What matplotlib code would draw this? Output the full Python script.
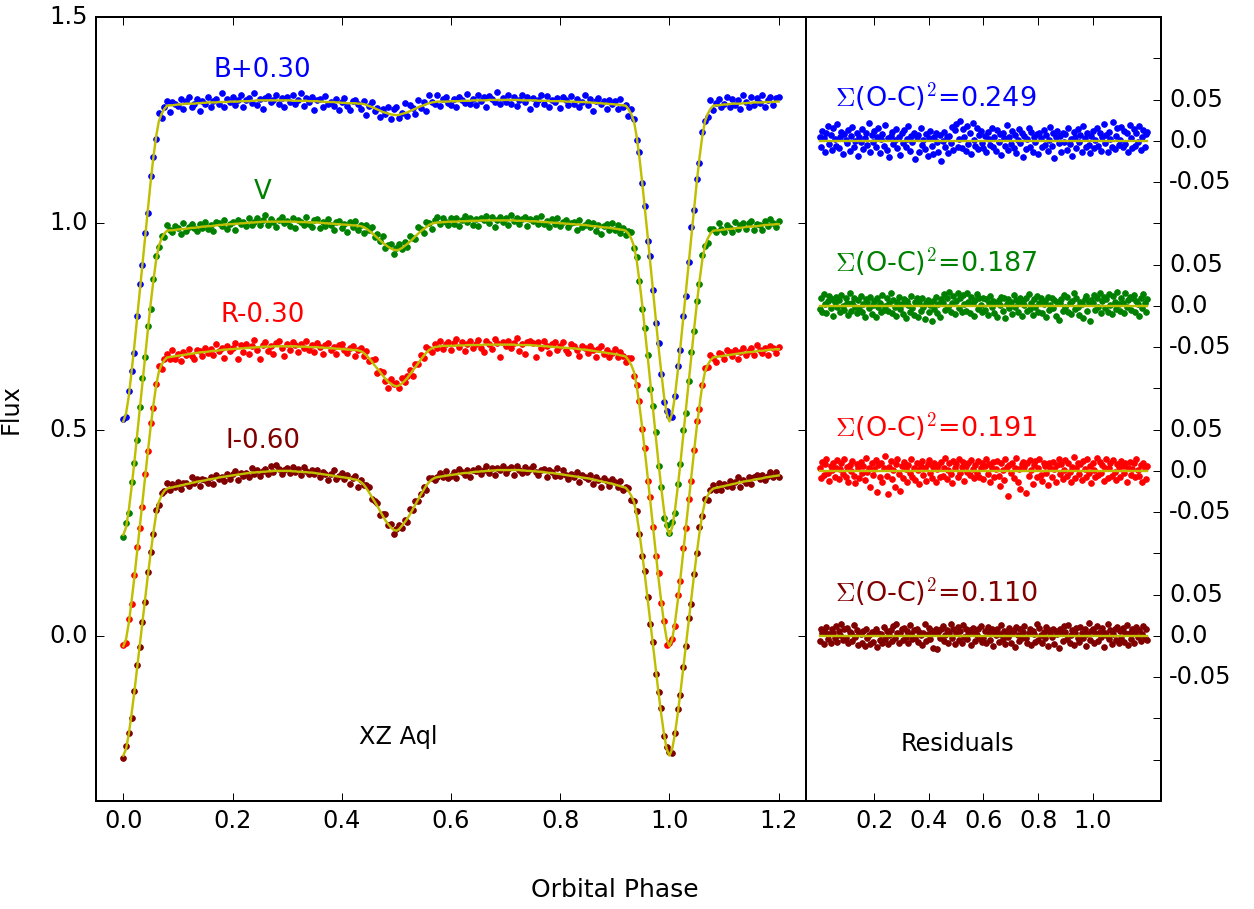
import numpy as np
import matplotlib.pyplot as plt

plt.style.use('classic')
plt.rcParams['mathtext.fontset'] = 'cm'

# orbital phase grid of the observations / model (0.000 .. 1.200, step 0.005)
phase = np.round(np.arange(241) * 0.005, 3)

# normalised model flux per band (synthetic light curve), one row = 0.05 in phase
B_model = [0.220, 0.239, 0.281, 0.339, 0.400, 0.467, 0.535, 0.602, 0.670, 0.736,
           0.800, 0.859, 0.910, 0.947, 0.965, 0.977, 0.985, 0.986, 0.986, 0.987,
           0.988, 0.988, 0.989, 0.990, 0.990, 0.990, 0.990, 0.991, 0.991, 0.992,
           0.992, 0.993, 0.993, 0.993, 0.993, 0.994, 0.994, 0.994, 0.994, 0.995,
           0.995, 0.995, 0.995, 0.996, 0.996, 0.996, 0.996, 0.997, 0.997, 0.998,
           0.998, 0.998, 0.998, 0.998, 0.998, 0.998, 0.998, 0.998, 0.998, 0.998,
           0.998, 0.998, 0.997, 0.997, 0.997, 0.997, 0.997, 0.997, 0.996, 0.996,
           0.996, 0.996, 0.995, 0.995, 0.994, 0.994, 0.994, 0.994, 0.993, 0.993,
           0.992, 0.992, 0.991, 0.991, 0.991, 0.991, 0.990, 0.990, 0.989, 0.987,
           0.984, 0.982, 0.979, 0.976, 0.973, 0.970, 0.968, 0.966, 0.964, 0.963,
           0.962, 0.963, 0.965, 0.967, 0.969, 0.972, 0.975, 0.978, 0.981, 0.984,
           0.986, 0.989, 0.991, 0.993, 0.994, 0.995, 0.995, 0.995, 0.995, 0.995,
           0.996, 0.996, 0.996, 0.996, 0.997, 0.997, 0.997, 0.997, 0.998, 0.998,
           0.998, 0.998, 0.998, 0.998, 0.999, 0.999, 0.999, 0.999, 0.999, 0.999,
           0.999, 0.999, 0.999, 0.999, 0.999, 0.999, 0.998, 0.998, 0.998, 0.998,
           0.998, 0.998, 0.997, 0.997, 0.997, 0.997, 0.996, 0.996, 0.996, 0.996,
           0.996, 0.996, 0.995, 0.995, 0.995, 0.995, 0.994, 0.994, 0.994, 0.994,
           0.993, 0.993, 0.992, 0.992, 0.991, 0.991, 0.990, 0.990, 0.989, 0.989,
           0.988, 0.988, 0.987, 0.986, 0.985, 0.977, 0.965, 0.947, 0.910, 0.859,
           0.800, 0.736, 0.670, 0.602, 0.535, 0.467, 0.400, 0.339, 0.281, 0.239,
           0.220, 0.239, 0.281, 0.339, 0.400, 0.467, 0.535, 0.602, 0.670, 0.736,
           0.800, 0.859, 0.910, 0.947, 0.965, 0.977, 0.985, 0.986, 0.986, 0.987,
           0.988, 0.988, 0.989, 0.990, 0.990, 0.990, 0.990, 0.991, 0.991, 0.992,
           0.992, 0.993, 0.993, 0.993, 0.993, 0.994, 0.994, 0.994, 0.994, 0.995,
           0.995]
V_model = [0.245, 0.263, 0.304, 0.359, 0.418, 0.483, 0.549, 0.613, 0.678, 0.742,
           0.804, 0.860, 0.910, 0.945, 0.963, 0.975, 0.982, 0.983, 0.983, 0.984,
           0.985, 0.986, 0.986, 0.987, 0.988, 0.989, 0.989, 0.990, 0.991, 0.992,
           0.992, 0.993, 0.993, 0.994, 0.995, 0.996, 0.996, 0.997, 0.997, 0.998,
           0.998, 0.999, 0.999, 1.000, 1.000, 1.001, 1.001, 1.002, 1.002, 1.003,
           1.003, 1.004, 1.004, 1.004, 1.004, 1.004, 1.004, 1.004, 1.004, 1.004,
           1.004, 1.004, 1.004, 1.004, 1.003, 1.003, 1.003, 1.003, 1.002, 1.002,
           1.002, 1.002, 1.001, 1.001, 1.000, 1.000, 0.999, 0.999, 0.998, 0.998,
           0.997, 0.997, 0.996, 0.996, 0.995, 0.995, 0.994, 0.993, 0.991, 0.987,
           0.982, 0.977, 0.971, 0.965, 0.959, 0.953, 0.948, 0.943, 0.939, 0.936,
           0.935, 0.936, 0.940, 0.945, 0.950, 0.956, 0.962, 0.969, 0.975, 0.981,
           0.986, 0.991, 0.996, 0.999, 1.001, 1.002, 1.002, 1.003, 1.003, 1.004,
           1.004, 1.004, 1.004, 1.005, 1.005, 1.005, 1.005, 1.006, 1.006, 1.006,
           1.006, 1.007, 1.007, 1.007, 1.007, 1.007, 1.007, 1.007, 1.007, 1.007,
           1.007, 1.007, 1.007, 1.007, 1.006, 1.006, 1.006, 1.006, 1.005, 1.005,
           1.005, 1.005, 1.004, 1.004, 1.003, 1.003, 1.002, 1.002, 1.001, 1.001,
           1.000, 1.000, 0.999, 0.999, 0.998, 0.998, 0.997, 0.997, 0.996, 0.996,
           0.995, 0.994, 0.993, 0.993, 0.992, 0.991, 0.990, 0.990, 0.989, 0.988,
           0.987, 0.986, 0.985, 0.984, 0.982, 0.975, 0.963, 0.945, 0.910, 0.860,
           0.804, 0.742, 0.678, 0.613, 0.549, 0.483, 0.418, 0.359, 0.304, 0.263,
           0.245, 0.263, 0.304, 0.359, 0.418, 0.483, 0.549, 0.613, 0.678, 0.742,
           0.804, 0.860, 0.910, 0.945, 0.963, 0.975, 0.982, 0.983, 0.983, 0.984,
           0.985, 0.986, 0.986, 0.987, 0.988, 0.989, 0.989, 0.990, 0.991, 0.992,
           0.992, 0.993, 0.993, 0.994, 0.995, 0.996, 0.996, 0.997, 0.997, 0.998,
           0.998]
R_model = [0.275, 0.292, 0.331, 0.383, 0.439, 0.501, 0.563, 0.625, 0.687, 0.747,
           0.806, 0.859, 0.906, 0.940, 0.957, 0.968, 0.975, 0.976, 0.977, 0.978,
           0.979, 0.980, 0.981, 0.982, 0.983, 0.984, 0.985, 0.986, 0.987, 0.988,
           0.988, 0.989, 0.990, 0.991, 0.991, 0.992, 0.993, 0.994, 0.994, 0.995,
           0.995, 0.996, 0.996, 0.997, 0.997, 0.998, 0.998, 0.999, 0.999, 1.000,
           1.000, 1.001, 1.001, 1.001, 1.001, 1.002, 1.002, 1.002, 1.002, 1.002,
           1.002, 1.002, 1.002, 1.002, 1.001, 1.001, 1.001, 1.001, 1.000, 1.000,
           1.000, 1.000, 0.999, 0.999, 0.998, 0.998, 0.997, 0.997, 0.996, 0.996,
           0.995, 0.995, 0.994, 0.994, 0.993, 0.993, 0.992, 0.990, 0.986, 0.980,
           0.973, 0.965, 0.956, 0.948, 0.940, 0.931, 0.923, 0.916, 0.911, 0.907,
           0.905, 0.907, 0.912, 0.918, 0.925, 0.934, 0.943, 0.952, 0.961, 0.970,
           0.979, 0.987, 0.993, 0.997, 1.000, 1.001, 1.002, 1.003, 1.003, 1.003,
           1.003, 1.003, 1.004, 1.004, 1.004, 1.004, 1.005, 1.005, 1.005, 1.005,
           1.005, 1.005, 1.006, 1.006, 1.006, 1.006, 1.006, 1.006, 1.006, 1.006,
           1.006, 1.006, 1.006, 1.006, 1.005, 1.005, 1.005, 1.005, 1.005, 1.005,
           1.004, 1.004, 1.003, 1.003, 1.002, 1.002, 1.001, 1.001, 1.000, 1.000,
           0.999, 0.999, 0.998, 0.998, 0.997, 0.997, 0.996, 0.995, 0.994, 0.994,
           0.993, 0.992, 0.991, 0.990, 0.989, 0.988, 0.987, 0.986, 0.985, 0.984,
           0.983, 0.982, 0.980, 0.979, 0.977, 0.968, 0.957, 0.940, 0.906, 0.859,
           0.806, 0.747, 0.687, 0.625, 0.563, 0.501, 0.439, 0.383, 0.331, 0.292,
           0.275, 0.292, 0.331, 0.383, 0.439, 0.501, 0.563, 0.625, 0.687, 0.747,
           0.806, 0.859, 0.906, 0.940, 0.957, 0.968, 0.975, 0.976, 0.977, 0.978,
           0.979, 0.980, 0.981, 0.982, 0.983, 0.984, 0.985, 0.986, 0.987, 0.988,
           0.988, 0.989, 0.990, 0.991, 0.991, 0.992, 0.993, 0.994, 0.994, 0.995,
           0.995]
I_model = [0.310, 0.326, 0.362, 0.410, 0.462, 0.519, 0.577, 0.633, 0.690, 0.747,
           0.800, 0.850, 0.894, 0.925, 0.940, 0.951, 0.957, 0.959, 0.960, 0.962,
           0.963, 0.965, 0.966, 0.968, 0.969, 0.971, 0.972, 0.974, 0.975, 0.976,
           0.977, 0.979, 0.980, 0.981, 0.982, 0.984, 0.985, 0.986, 0.987, 0.988,
           0.989, 0.990, 0.991, 0.992, 0.993, 0.994, 0.995, 0.996, 0.996, 0.997,
           0.997, 0.998, 0.998, 0.999, 0.999, 1.000, 1.000, 1.000, 1.000, 1.000,
           1.000, 1.000, 0.999, 0.999, 0.998, 0.998, 0.997, 0.997, 0.996, 0.996,
           0.995, 0.994, 0.993, 0.992, 0.991, 0.990, 0.989, 0.988, 0.987, 0.986,
           0.985, 0.984, 0.983, 0.982, 0.980, 0.979, 0.977, 0.973, 0.967, 0.958,
           0.948, 0.937, 0.926, 0.915, 0.903, 0.891, 0.880, 0.871, 0.863, 0.857,
           0.855, 0.859, 0.867, 0.875, 0.884, 0.895, 0.907, 0.919, 0.931, 0.943,
           0.954, 0.965, 0.973, 0.979, 0.983, 0.985, 0.986, 0.987, 0.988, 0.989,
           0.990, 0.991, 0.992, 0.993, 0.994, 0.995, 0.995, 0.996, 0.997, 0.998,
           0.998, 0.999, 0.999, 1.000, 1.000, 1.001, 1.001, 1.002, 1.002, 1.002,
           1.002, 1.002, 1.002, 1.002, 1.002, 1.002, 1.001, 1.001, 1.000, 1.000,
           0.999, 0.999, 0.998, 0.998, 0.997, 0.996, 0.995, 0.995, 0.994, 0.993,
           0.992, 0.991, 0.990, 0.989, 0.988, 0.987, 0.986, 0.985, 0.984, 0.983,
           0.982, 0.981, 0.979, 0.978, 0.976, 0.975, 0.973, 0.972, 0.970, 0.969,
           0.967, 0.965, 0.963, 0.961, 0.959, 0.951, 0.940, 0.925, 0.894, 0.850,
           0.800, 0.747, 0.690, 0.633, 0.577, 0.519, 0.462, 0.410, 0.362, 0.326,
           0.310, 0.326, 0.362, 0.410, 0.462, 0.519, 0.577, 0.633, 0.690, 0.747,
           0.800, 0.850, 0.894, 0.925, 0.940, 0.951, 0.957, 0.959, 0.960, 0.962,
           0.963, 0.965, 0.966, 0.968, 0.969, 0.971, 0.972, 0.974, 0.975, 0.976,
           0.977, 0.979, 0.980, 0.981, 0.982, 0.984, 0.985, 0.986, 0.987, 0.988,
           0.989]

# O-C residuals, units of 0.001 flux
B_res = [5, -8, 12, 3, -14, 9, 18, -4, 7, -11,
         15, 2, -6, 20, -9, 4, 11, -16, 8, 1,
         -3, 13, -12, 6, 17, -7, 0, 10, -18, 5,
         -2, 14, -10, 3, 9, -5, 22, -13, 7, -1,
         12, -8, 4, 16, -15, 2, 8, -6, 19, -11,
         3, -20, 6, 11, -4, 1, 14, -9, 5, -17,
         9, -3, 13, -7, 2, 18, -12, 6, -1, 10,
         -22, 4, 7, -14, 15, -5, 1, -10, 8, -19,
         3, 12, -6, -16, 5, 9, -2, -13, 7, -24,
         0, 11, -8, 4, -15, 6, -3, 17, -11, 13,
         20, -7, 2, 24, -9, 14, 5, -12, 18, -4,
         9, -16, 21, 1, -6, 15, -10, 7, 12, -3,
         -9, 6, -14, 11, 2, -5, 16, -8, 4, -12,
         13, -1, 8, -17, 10, 3, -6, 19, -11, 5,
         -4, 12, -9, 7, -15, 1, 14, -3, 9, -20,
         6, -10, 2, 15, -7, 11, -13, 4, -2, 8,
         -16, 10, 3, -8, 13, -5, 7, -12, 1, 17,
         -6, 9, -21, 4, 12, -3, 6, -14, 10, -1,
         8, -11, 15, -4, 2, -18, 11, 5, -9, 14,
         -2, 7, -13, 18, 3, -8, 10, -5, -15, 6,
         12, -9, 1, 16, -6, 9, -12, 4, 20, -3,
         7, -14, 11, 2, -7, 23, -10, 6, 15, -5,
         1, 17, -8, 12, -4, 9, -13, 19, 3, -9,
         14, -6, 10, -2, 18, -11, 5, 13, -7, 8,
         11]
V_res = [-4, 10, -7, 14, 2, -9, 6, 12, -3, 8,
         -12, 5, 11, -2, 7, -8, 13, 0, -5, 9,
         4, -11, 15, -6, 3, 10, -1, -9, 7, -4,
         12, -7, 2, -13, 8, 5, -3, 11, -10, 1,
         6, -14, 9, -2, 4, -8, 13, -5, 0, 10,
         -6, 3, 16, -9, 7, -1, -12, 5, 11, -4,
         2, -10, 8, -15, 6, 1, -7, 12, -3, -11,
         5, 9, -13, 3, -6, 10, -2, -16, 4, 7,
         -8, 1, -18, 6, -4, 11, -9, 2, -14, 8,
         3, 14, -5, 9, -1, 17, -7, 4, 12, -10,
         6, 15, -3, 10, -8, 13, 2, -6, 16, 5,
         -9, 11, 4, -12, 7, 14, -4, 9, 1, -7,
         10, -5, 8, -11, 3, 12, -2, 6, -9, 4,
         -13, 7, 1, 11, -6, 9, -15, 2, 8, -3,
         5, -10, 13, -1, 7, -8, 4, 10, -12, 6,
         1, 9, -6, 14, -4, 3, -11, 8, -2, 12,
         -7, 4, 10, -9, 2, 6, -14, 11, -5, 1,
         9, -3, 7, -12, 5, -17, 3, 8, -6, 13,
         -2, 11, -8, 4, -10, 6, 15, -4, 9, -1,
         -11, 5, 2, -15, 8, 12, -6, 3, -18, 7,
         4, 13, -5, 10, -2, 16, -9, 6, 11, -3,
         8, -7, 14, 1, -10, 12, 5, -4, 17, 2,
         -6, 10, 3, -9, 15, -2, 7, 11, -5, 9,
         13, -8, 6, 2, -12, 10, -3, 14, 4, -7,
         8]
R_res = [3, -9, 11, -5, 8, 14, -2, -12, 6, 1,
         10, -7, 4, 13, -10, 2, 9, -4, 15, -8,
         5, -13, 7, 0, 12, -6, -15, 8, 3, -9,
         11, -3, 6, -11, 16, -1, 4, -20, 9, -5,
         2, 13, -25, 7, -8, 10, -14, 3, 18, -6,
         -28, 5, 12, -10, 1, -19, 8, 14, -4, -24,
         6, -9, 11, 2, -13, 7, -2, 15, -7, 4,
         -11, 9, 1, -16, 6, 12, -5, 3, -12, 8,
         13, -3, -9, 5, 10, -14, 2, 7, -8, 11,
         -6, 4, 16, -10, 1, 9, -4, -15, 12, 3,
         8, -7, 14, -2, 5, 11, -12, 6, -1, 10,
         -5, 13, 2, -9, 7, -3, 12, -8, 4, 9,
         -10, 6, 15, -4, 8, -13, 3, 11, -7, 2,
         12, -6, -18, 9, 1, -11, 14, 5, -30, 7,
         -3, 10, -9, 4, 16, -14, 2, -22, 8, 11,
         5, -27, 9, -6, 13, 1, -16, 7, 12, -8,
         3, 14, -5, -12, 10, 6, -2, -17, 9, 4,
         -8, 11, 2, -14, 7, 15, -4, 8, -10, 1,
         13, -6, 9, -1, -13, 5, 17, -9, 3, 10,
         -4, 8, -11, 12, 2, -7, 14, -3, 6, -15,
         9, 1, -8, 16, -5, 11, -2, 7, -12, 4,
         15, -9, 3, 10, -6, 13, -1, -11, 8, 5,
         -7, 12, 6, -3, 9, -14, 4, 11, -5, 2,
         10, -8, 14, 1, -6, 7, -13, 9, 3, -10,
         6]
I_res = [-6, 8, 3, -10, 5, 11, -4, 2, -8, 9,
         4, -3, 12, -7, 6, 1, 14, -5, 9, -2,
         10, -9, 5, 3, -6, 13, -1, 7, -11, 4,
         2, -8, 6, -12, 8, -3, 1, -10, 5, -7,
         3, 9, -13, 4, -5, 2, -9, 11, -4, 6,
         -10, 1, 7, -6, 12, -2, 15, 4, -8, 3,
         8, -5, 10, -1, 6, -9, 13, 2, -4, 7,
         -3, 9, -7, 5, 1, -11, 4, 14, -6, 2,
         10, -4, 6, -14, 3, 8, -16, 5, -2, 9,
         12, -6, 1, 7, -9, 4, 15, -3, 8, -10,
         3, 11, -5, 6, -8, 13, -1, 9, -4, 2,
         7, -11, 10, 4, -6, 1, 8, -3, 12, -7,
         -2, 6, -9, 11, 3, -5, 8, -12, 4, 1,
         9, -7, 2, 13, -4, 6, -10, 5, -1, 10,
         -8, 3, 7, -13, 11, 1, -6, 9, -3, 5,
         12, -2, -9, 4, 8, -11, 6, 2, -7, 14,
         -5, 10, 1, -8, 5, -3, 11, -12, 7, 3,
         -1, 8, -10, 6, 2, -15, 9, 4, -6, 12,
         5, -4, 13, -8, 1, 7, -11, 3, 10, -2,
         -7, 11, 4, -3, 9, -12, 2, 16, -5, 6,
         8, -9, 3, 12, -6, 5, -1, 10, -13, 4,
         1, 14, -4, 7, -10, 2, 9, -5, 11, -8,
         6, -2, 10, -7, 4, 13, -11, 3, -4, 8,
         -9, 5, 11, -1, 7, -6, 2, 12, -3, 9,
         -5]

labels = ['B+0.30', 'V', 'R-0.30', 'I-0.60']
offsets = [0.30, 0.0, -0.30, -0.60]
res_offsets = [1.2, 0.8, 0.4, 0.0]
sum_oc2 = [0.249, 0.187, 0.191, 0.110]
colors = ['#0000ff', '#008000', '#ff0000', '#800000']
models = [B_model, V_model, R_model, I_model]
residuals = [B_res, V_res, R_res, I_res]

res_ticks = [-0.3, -0.2, -0.1, 0.0, 0.1, 0.2, 0.3, 0.4, 0.5, 0.6, 0.7, 0.8,
             0.9, 1.0, 1.1, 1.2, 1.3, 1.4]
res_ticklabels = ['', '', '-0.05', '0.0', '0.05', '', '-0.05', '0.0', '0.05',
                  '', '-0.05', '0.0', '0.05', '', '-0.05', '0.0', '0.05', '']

fig = plt.figure(figsize=(1254 / 144, 909 / 144), dpi=144, facecolor='white')
ax1 = fig.add_axes([96 / 1254, 108 / 909, 710 / 1254, 784 / 909])
ax2 = fig.add_axes([806 / 1254, 108 / 909, 355 / 1254, 784 / 909])

for model, res, off, roff, col, s in zip(models, residuals, offsets, res_offsets,
                                          colors, sum_oc2):
    model = np.array(model) + off
    res = np.array(res) / 1000.0
    ax1.plot(phase, model + res, 'o', color=col, mec=col, ms=2.8)
    ax1.plot(phase, model, '-', color='y', lw=1.2)
    # residual panel, residuals shown with a factor 2 stretch
    ax2.plot(phase, roff + 2 * res, 'o', color=col, mec=col, ms=2.8)
    ax2.plot(phase, np.zeros_like(phase) + roff, '-', color='y', lw=1.2)
    ax2.text(0.055, roff + 0.105, r'$\Sigma$(O-C)$^2$=%.3f' % s, color=col,
             fontsize=13.5, ha='left', va='center')

label_y = [1.372, 1.077, 0.777, 0.472]
for lab, ly, col in zip(labels, label_y, colors):
    ax1.text(0.255, ly, lab, color=col, fontsize=13, ha='center', va='center')

ax1.text(0.503, -0.244, 'XZ Aql', fontsize=12, ha='center', va='center')
ax2.text(0.505, -0.261, 'Residuals', fontsize=12, ha='center', va='center')

ax1.set_xlim(-0.05, 1.25)
ax1.set_ylim(-0.4, 1.5)
ax1.set_xticks([0.0, 0.2, 0.4, 0.6, 0.8, 1.0, 1.2])
ax1.set_yticks([0.0, 0.5, 1.0, 1.5])
ax1.set_ylabel('Flux')
ax1.yaxis.set_label_coords(-0.104, 0.5)

ax2.set_xlim(-0.05, 1.25)
ax2.set_ylim(-0.4, 1.5)
ax2.set_xticks([0.2, 0.4, 0.6, 0.8, 1.0])
ax2.set_yticks(res_ticks)
ax2.set_yticklabels(res_ticklabels)
ax2.tick_params(axis='y', left=False, right=True, labelleft=False, labelright=True)

fig.text(0.49, 0.021, 'Orbital Phase', fontsize=12.5, ha='center', va='center')

fig.savefig('out.png', dpi=144, facecolor='white')
